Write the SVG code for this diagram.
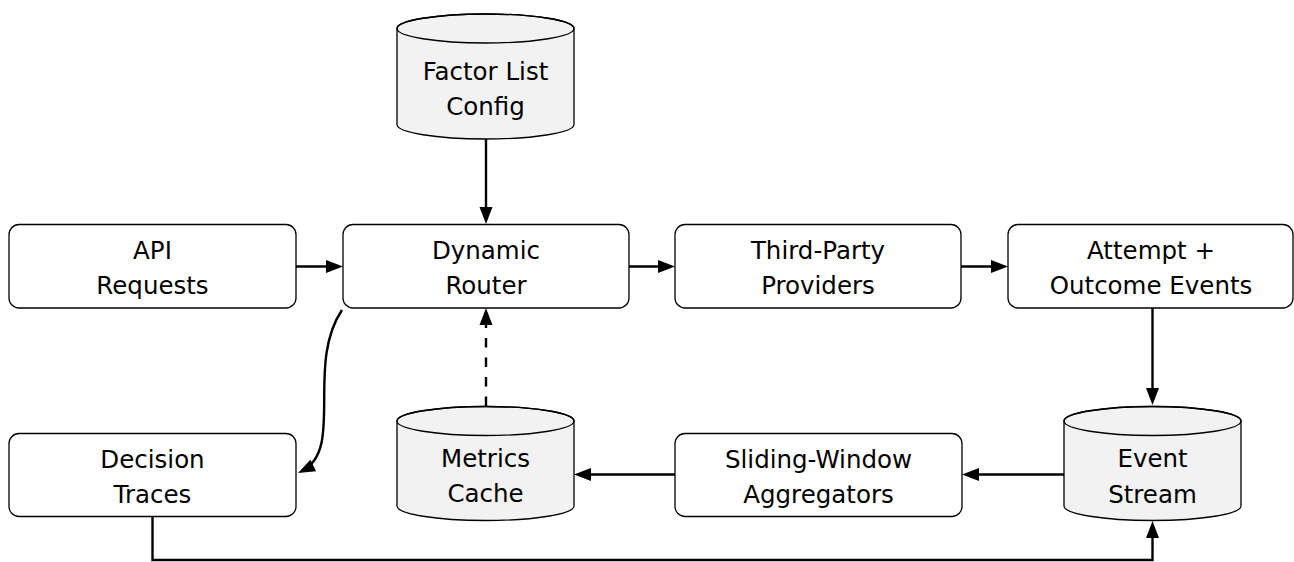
<svg xmlns="http://www.w3.org/2000/svg" width="1294" height="562" viewBox="0 0 1294 562">
<style>
.box{fill:#ffffff;stroke:#000;stroke-width:1.3}
.cyl{fill:#f2f2f2;stroke:#000;stroke-width:1.3}
.top{fill:none;stroke:#000;stroke-width:1.3}
.lbl{font-family:"DejaVu Sans",sans-serif;font-size:24.5px;fill:#000;text-anchor:middle}
.edge{fill:none;stroke:#000;stroke-width:2.4}
.dash{stroke-dasharray:9.5 10}
</style>
<defs>
<marker id="arr" markerUnits="userSpaceOnUse" markerWidth="17" markerHeight="13" refX="13" refY="6.5" orient="auto" overflow="visible">
<path d="M0,0 L17,6.5 L0,13 Z" fill="#000"/>
</marker>
</defs>
<g id="factor">
<path class="cyl" d="M397 28.5 L397 124.5 A88.5 14.5 0 0 0 574 124.5 L574 28.5 A88.5 14.5 0 0 0 397 28.5 Z"/>
<ellipse class="top" cx="485.5" cy="28.5" rx="88.5" ry="14.5"/>
<text class="lbl" x="485.5" y="80">Factor List</text>
<text class="lbl" x="485.5" y="115">Config</text>
</g>
<g id="api">
<rect class="box" x="9" y="224.5" width="287" height="83.5" rx="10"/>
<text class="lbl" x="152.5" y="259">API</text>
<text class="lbl" x="152.5" y="294">Requests</text>
</g>
<g id="router">
<rect class="box" x="343" y="224.5" width="286" height="83.5" rx="10"/>
<text class="lbl" x="486" y="259">Dynamic</text>
<text class="lbl" x="486" y="294">Router</text>
</g>
<g id="providers">
<rect class="box" x="675" y="224.5" width="286" height="83.5" rx="10"/>
<text class="lbl" x="818" y="259">Third-Party</text>
<text class="lbl" x="818" y="294">Providers</text>
</g>
<g id="events">
<rect class="box" x="1008" y="224.5" width="285" height="83.5" rx="10"/>
<text class="lbl" x="1151" y="259">Attempt +</text>
<text class="lbl" x="1151" y="294">Outcome Events</text>
</g>
<g id="traces">
<rect class="box" x="9" y="433.5" width="287" height="83" rx="10"/>
<text class="lbl" x="152.5" y="468">Decision</text>
<text class="lbl" x="152.5" y="503">Traces</text>
</g>
<g id="metrics">
<path class="cyl" d="M397 421 L397 506 A88.5 14.5 0 0 0 574 506 L574 421 A88.5 14.5 0 0 0 397 421 Z"/>
<ellipse class="top" cx="485.5" cy="421" rx="88.5" ry="14.5"/>
<text class="lbl" x="485.5" y="466.5">Metrics</text>
<text class="lbl" x="485.5" y="501.5">Cache</text>
</g>
<g id="aggregators">
<rect class="box" x="675" y="433.5" width="287" height="83" rx="10"/>
<text class="lbl" x="818.5" y="468">Sliding-Window</text>
<text class="lbl" x="818.5" y="503">Aggregators</text>
</g>
<g id="stream">
<path class="cyl" d="M1064 421 L1064 506 A88.5 14.5 0 0 0 1241 506 L1241 421 A88.5 14.5 0 0 0 1064 421 Z"/>
<ellipse class="top" cx="1152.5" cy="421" rx="88.5" ry="14.5"/>
<text class="lbl" x="1152.5" y="467">Event</text>
<text class="lbl" x="1152.5" y="502.5">Stream</text>
</g>
<g id="connectors">
<path class="edge" marker-end="url(#arr)" d="M486 139 V220"/>
<path class="edge" marker-end="url(#arr)" d="M296 266.5 H339"/>
<path class="edge" marker-end="url(#arr)" d="M629 266.5 H671"/>
<path class="edge" marker-end="url(#arr)" d="M961 266.5 H1004"/>
<path class="edge" marker-end="url(#arr)" d="M1152.5 308 V401"/>
<path class="edge" marker-end="url(#arr)" d="M1064 474.5 H966"/>
<path class="edge" marker-end="url(#arr)" d="M675 474.5 H578"/>
<path class="edge dash" marker-end="url(#arr)" d="M486 406 V312"/>
<path class="edge" marker-end="url(#arr)" d="M342 310 C 305 365, 345 450, 301.6 471.2"/>
<path class="edge" marker-end="url(#arr)" d="M152.5 517 V560 H1152.5 V525"/>
</g>
</svg>
